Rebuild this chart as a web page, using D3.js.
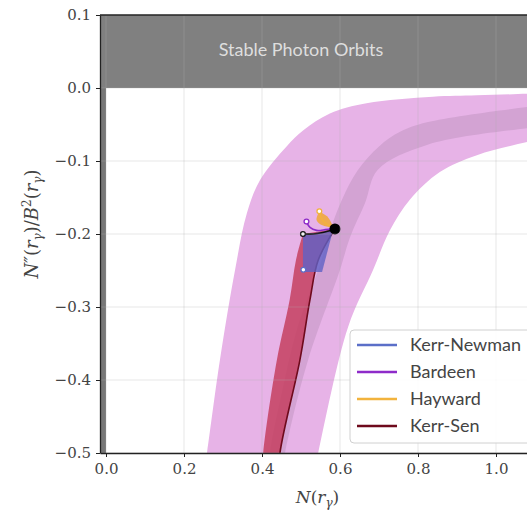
<!DOCTYPE html>
<html>
<head>
<meta charset="utf-8">
<script src="https://cdn.jsdelivr.net/npm/d3@7"></script>
<style>
  body { margin: 0; background: #fff; }
  svg { display: block; }
</style>
</head>
<body>
<svg id="chart"></svg>
<script>
// values, in data units [N(r), N''/B^2]
const xTicks = [0, 0.2, 0.4, 0.6, 0.8, 1.0];
const yTicks = [0.1, 0, -0.1, -0.2, -0.3, -0.4, -0.5];

// wide pink band
const outerUpper = [[0.245,-0.55],[0.259,-0.5],[0.292,-0.373],[0.331,-0.249],[0.361,-0.172],[0.395,-0.126],
  [0.463,-0.080],[0.506,-0.058],[0.574,-0.035],[0.668,-0.021],[0.838,-0.012],[0.951,-0.010],[1.08,-0.008],[1.15,-0.007]];
const outerLower = [[0.525,-0.55],[0.544,-0.5],[0.621,-0.327],[0.685,-0.249],[0.728,-0.195],[0.779,-0.153],
  [0.856,-0.115],[0.951,-0.092],[1.08,-0.074],[1.15,-0.066]];

// darker inner band
const innerUpper = [[0.41,-0.55],[0.42,-0.5],[0.45,-0.42],[0.49,-0.33],[0.55,-0.24],[0.578,-0.19],[0.605,-0.153],
  [0.645,-0.113],[0.700,-0.080],[0.754,-0.060],[0.823,-0.047],[1.08,-0.026],[1.15,-0.022]];
const innerLower = [[0.445,-0.55],[0.459,-0.5],[0.518,-0.373],[0.600,-0.249],[0.626,-0.204],[0.664,-0.158],
  [0.697,-0.112],[0.823,-0.078],[1.08,-0.055],[1.15,-0.051]];

// Kerr-Sen band and curve
const kerrSenLeft = [[0.397,-0.55],[0.403,-0.5],[0.438,-0.373],[0.471,-0.290],[0.487,-0.236],[0.505,-0.200]];
const kerrSenCurve = [[0.587,-0.193],[0.544,-0.236],[0.523,-0.290],[0.497,-0.373],[0.446,-0.5],[0.44,-0.55]];

// Kerr-Newman region
const kerrNewmanRegion = [[0.505,-0.201],[0.582,-0.195],[0.554,-0.252],[0.505,-0.252]];
const kerrNewmanEnd = [0.506,-0.249];

// Bardeen / Hayward / reference curves
const bardeenCurve = [[0.514,-0.183],[0.523,-0.191],[0.540,-0.195],[0.562,-0.194],[0.582,-0.192]];
const bardeenEnd = [0.514,-0.183];
const haywardRegion = [[0.547,-0.169],[0.540,-0.181],[0.555,-0.188],[0.581,-0.190],[0.568,-0.176]];
const haywardCurve = [[0.547,-0.169],[0.555,-0.181],[0.570,-0.188],[0.585,-0.192]];
const haywardEnd = [0.547,-0.169];
const blackCurve = [[0.505,-0.200],[0.531,-0.200],[0.556,-0.198],[0.579,-0.195]];
const blackEnd = [0.505,-0.200];
const schwarzschild = [0.587,-0.193];

const legendNames = ["Kerr-Newman", "Bardeen", "Hayward", "Kerr-Sen"];
const legendColors = ["#5b6fc8", "#8e2bc9", "#f2b33d", "#6e0a1c"];

const W = 527, H = 513;
const margin = { top: 15, left: 100 };
const plotRight = 535, plotBottom = 453;

const svg = d3.select("#chart").attr("width", W).attr("height", H);

const x = d3.scaleLinear().domain([-0.0154, 1.1]).range([margin.left, plotRight]);
const y = d3.scaleLinear().domain([-0.5, 0.1]).range([plotBottom, margin.top]);

svg.append("defs").append("clipPath").attr("id", "plotclip")
  .append("rect")
  .attr("x", x(-0.0154)).attr("y", y(0.1))
  .attr("width", x(1.1) - x(-0.0154)).attr("height", y(-0.5) - y(0.1));

const plot = svg.append("g").attr("clip-path", "url(#plotclip)");

const smooth = d3.line().x(d => x(d[0])).y(d => y(d[1])).curve(d3.curveCatmullRom.alpha(0.5));
const straight = d3.line().x(d => x(d[0])).y(d => y(d[1]));

function band(upper, lower) {
  const a = smooth(upper);
  const b = smooth(lower.slice().reverse());
  return a + "L" + b.slice(1) + "Z";
}

// shaded regions
plot.append("rect")
  .attr("x", x(-0.0154)).attr("y", y(0.1))
  .attr("width", x(1.1) - x(-0.0154)).attr("height", y(0) - y(0.1))
  .attr("fill", "#808080");
plot.append("rect")
  .attr("x", x(-0.0154)).attr("y", y(0))
  .attr("width", x(0) - x(-0.0154)).attr("height", y(-0.5) - y(0))
  .attr("fill", "#777");

plot.append("path").attr("d", band(outerUpper, outerLower)).attr("fill", "#e7b3e7");
plot.append("path").attr("d", band(innerUpper, innerLower)).attr("fill", "#d3a3d3");

// Kerr-Sen
plot.append("path").attr("d", band(kerrSenLeft, kerrSenCurve.slice().reverse()))
  .attr("fill", "#c4405f").attr("opacity", 0.85);
plot.append("path").attr("d", smooth(kerrSenCurve))
  .attr("fill", "none").attr("stroke", legendColors[3]).attr("stroke-width", 1.6);

// Kerr-Newman
plot.append("path").attr("d", straight(kerrNewmanRegion) + "Z")
  .attr("fill", "#5f62c6").attr("opacity", 0.8);

// Hayward
plot.append("path").attr("d", smooth(haywardRegion) + "Z")
  .attr("fill", "#f0a833").attr("opacity", 0.85);
plot.append("path").attr("d", smooth(haywardCurve))
  .attr("fill", "none").attr("stroke", legendColors[2]).attr("stroke-width", 1.5);

// Bardeen
plot.append("path").attr("d", smooth(bardeenCurve))
  .attr("fill", "none").attr("stroke", legendColors[1]).attr("stroke-width", 1.6);

// reference curve
plot.append("path").attr("d", smooth(blackCurve))
  .attr("fill", "none").attr("stroke", "#111").attr("stroke-width", 1.6);

const ends = [
  { p: kerrNewmanEnd, c: legendColors[0] },
  { p: bardeenEnd, c: legendColors[1] },
  { p: haywardEnd, c: legendColors[2] },
  { p: blackEnd, c: "#111" }
];
plot.selectAll("circle.end").data(ends).join("circle")
  .attr("class", "end")
  .attr("cx", d => x(d.p[0])).attr("cy", d => y(d.p[1]))
  .attr("r", 2.4).attr("fill", "#fff").attr("stroke", d => d.c).attr("stroke-width", 1.3);

plot.append("circle")
  .attr("cx", x(schwarzschild[0])).attr("cy", y(schwarzschild[1]))
  .attr("r", 5.5).attr("fill", "#000");

// grid on top
const grid = plot.append("g");
grid.selectAll("line.gx").data(xTicks).join("line")
  .attr("x1", d => x(d)).attr("x2", d => x(d))
  .attr("y1", y(0.1)).attr("y2", y(-0.5))
  .attr("stroke", "#b0b0b0").attr("stroke-opacity", 0.3).attr("stroke-width", 1);
grid.selectAll("line.gy").data(yTicks).join("line")
  .attr("x1", x(-0.0154)).attr("x2", x(1.1))
  .attr("y1", d => y(d)).attr("y2", d => y(d))
  .attr("stroke", "#b0b0b0").attr("stroke-opacity", 0.3).attr("stroke-width", 1);

plot.append("text")
  .attr("x", x(0.5)).attr("y", y(0.05))
  .attr("text-anchor", "middle").attr("dominant-baseline", "middle")
  .attr("font-family", "Lato, sans-serif").attr("font-size", 18)
  .attr("fill", "#dedede")
  .text("Stable Photon Orbits");

// axes
const xAxis = d3.axisBottom(x).tickValues(xTicks).tickFormat(d3.format(".1f")).tickSize(4).tickSizeOuter(0).tickPadding(6);
const yAxis = d3.axisLeft(y).tickValues(yTicks).tickFormat(d3.format(".1f")).tickSize(4).tickSizeOuter(0).tickPadding(5);

const gx = svg.append("g").attr("transform", `translate(0,${plotBottom})`).call(xAxis);
const gy = svg.append("g").attr("transform", `translate(${margin.left},0)`).call(yAxis);
[gx, gy].forEach(g => {
  g.select(".domain").attr("stroke", "#222").attr("stroke-width", 1.3);
  g.selectAll(".tick line").attr("stroke", "#222").attr("stroke-width", 1);
  g.selectAll(".tick text")
    .attr("font-family", "'DejaVu Serif', serif").attr("font-size", 15).attr("fill", "#444");
});

svg.append("line")
  .attr("x1", x(-0.0154)).attr("x2", x(1.1))
  .attr("y1", y(0.1)).attr("y2", y(0.1))
  .attr("stroke", "#222").attr("stroke-width", 1.3);

// axis labels
const xl = svg.append("text")
  .attr("x", (margin.left + plotRight) / 2).attr("y", 503)
  .attr("text-anchor", "middle")
  .attr("font-family", "'DejaVu Serif', serif").attr("font-size", 17).attr("fill", "#444");
xl.append("tspan").attr("font-style", "italic").text("N");
xl.append("tspan").text("(");
xl.append("tspan").attr("font-style", "italic").text("r");
xl.append("tspan").attr("font-style", "italic").attr("font-size", 12).attr("dy", 4).text("γ");
xl.append("tspan").attr("dy", -4).text(")");

const yl = svg.append("text")
  .attr("transform", `translate(38,${(margin.top + plotBottom) / 2 - 10}) rotate(-90)`)
  .attr("text-anchor", "middle")
  .attr("font-family", "'DejaVu Serif', serif").attr("font-size", 18).attr("fill", "#444");
yl.append("tspan").attr("font-style", "italic").text("N″");
yl.append("tspan").text("(");
yl.append("tspan").attr("font-style", "italic").text("r");
yl.append("tspan").attr("font-style", "italic").attr("font-size", 12).attr("dy", 4).text("γ");
yl.append("tspan").attr("dy", -4).text(")/");
yl.append("tspan").attr("font-style", "italic").text("B");
yl.append("tspan").attr("font-size", 12).attr("dy", -7).text("2");
yl.append("tspan").attr("dy", 7).text("(");
yl.append("tspan").attr("font-style", "italic").text("r");
yl.append("tspan").attr("font-style", "italic").attr("font-size", 12).attr("dy", 4).text("γ");
yl.append("tspan").attr("dy", -4).text(")");

// legend
const legend = svg.append("g").attr("transform", "translate(350,330)");
legend.append("rect")
  .attr("width", 200).attr("height", 113).attr("rx", 4)
  .attr("fill", "#fff").attr("fill-opacity", 0.85)
  .attr("stroke", "#d0d0d0").attr("stroke-width", 1);
const items = legend.selectAll("g.item").data(legendNames).join("g")
  .attr("class", "item")
  .attr("transform", (d, i) => `translate(0,${15 + i * 27})`);
items.append("line")
  .attr("x1", 7).attr("x2", 47)
  .attr("stroke", (d, i) => legendColors[i]).attr("stroke-width", 2.5);
items.append("text")
  .attr("x", 60).attr("dy", "0.35em")
  .attr("font-family", "Lato, sans-serif").attr("font-size", 18).attr("fill", "#444")
  .text(d => d);
</script>
</body>
</html>
